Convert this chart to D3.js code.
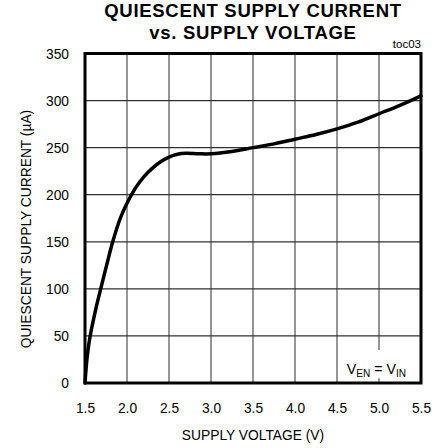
<!DOCTYPE html>
<html>
<head>
<meta charset="utf-8">
<script src="https://cdn.jsdelivr.net/npm/d3@7"></script>
<style>
  html, body { margin: 0; padding: 0; background: #fff; }
  svg { display: block; font-family: "Liberation Sans", Arial, sans-serif; }
</style>
</head>
<body>
<svg id="chart" width="443" height="448"></svg>
<script>
// ---- data ----
const voltage = [1.5, 1.51, 1.525, 1.545, 1.57, 1.6, 1.64, 1.69, 1.76, 1.83, 1.92, 2.0, 2.1, 2.2, 2.3, 2.4, 2.5, 2.6, 2.7, 2.85, 3.0, 3.25, 3.5, 3.75, 4.0, 4.25, 4.5, 4.75, 5.0, 5.25, 5.5];
const current = [0, 12, 27, 41, 54, 67, 83, 101, 126, 150, 175, 191, 207, 219, 228, 235, 240, 243, 244, 243.5, 243.5, 246, 250, 254, 259, 264, 270, 277, 286, 295, 305];
const xTicks = [1.5, 2.0, 2.5, 3.0, 3.5, 4.0, 4.5, 5.0, 5.5];
const yTicks = [0, 50, 100, 150, 200, 250, 300, 350];
const titleLines = ["QUIESCENT SUPPLY CURRENT", "vs. SUPPLY VOLTAGE"];
const xLabel = "SUPPLY VOLTAGE (V)";
const yLabel = "QUIESCENT SUPPLY CURRENT (\u00B5A)";
const tag = "toc03";

// ---- layout ----
const W = 443, H = 448;
const margin = { left: 85, right: 22, top: 53.5, bottom: 65 };
const svg = d3.select("#chart");
const pw = W - margin.left - margin.right;
const ph = H - margin.top - margin.bottom;
const g = svg.append("g").attr("transform", `translate(${margin.left},${margin.top})`);

const x = d3.scaleLinear().domain([1.5, 5.5]).range([0, pw]);
const y = d3.scaleLinear().domain([0, 350]).range([ph, 0]);
const SX = 0.92;

// grid
g.append("g").selectAll("line").data(xTicks).join("line")
  .attr("x1", d => x(d)).attr("x2", d => x(d))
  .attr("y1", 0).attr("y2", ph)
  .attr("stroke", "#505050").attr("stroke-width", 1.2);
g.append("g").selectAll("line").data(yTicks).join("line")
  .attr("x1", 0).attr("x2", pw)
  .attr("y1", d => y(d)).attr("y2", d => y(d))
  .attr("stroke", "#303030").attr("stroke-width", 1.2);

// legend box (white, covers grid)
const lx0 = x(4.55), ly0 = y(35);
const legend = g.append("g").attr("transform", `translate(${lx0},${ly0})`);
legend.append("rect").attr("x", 0).attr("y", 0)
  .attr("width", pw - lx0).attr("height", y(5) - ly0).attr("fill", "#fff");
const lt = legend.append("text")
  .attr("transform", `translate(${x(4.97) - lx0},${y(9.5) - ly0}) scale(${SX},1)`)
  .attr("text-anchor", "middle").attr("font-size", 15.5).attr("fill", "#000");
lt.append("tspan").text("V");
lt.append("tspan").attr("font-size", 11).attr("dy", 3).text("EN");
lt.append("tspan").attr("dy", -3).text(" = V");
lt.append("tspan").attr("font-size", 11).attr("dy", 3).text("IN");

// curve
const pts = voltage.map((v, i) => [v, current[i]]);
const line = d3.line().x(d => x(d[0])).y(d => y(d[1])).curve(d3.curveCatmullRom.alpha(0.5));
g.append("path").datum(pts).attr("d", line)
  .attr("fill", "none").attr("stroke", "#000").attr("stroke-width", 3.5)
  .attr("stroke-linejoin", "round").attr("stroke-linecap", "round");

// frame
g.append("rect").attr("x", 0).attr("y", 0).attr("width", pw).attr("height", ph)
  .attr("fill", "none").attr("stroke", "#000").attr("stroke-width", 3);

// axes labels via d3 axes
const xAxis = g.append("g").attr("transform", `translate(0,${ph})`)
  .call(d3.axisBottom(x).tickValues(xTicks).tickSize(0).tickFormat(d3.format(".1f")));
xAxis.select(".domain").remove();
xAxis.selectAll("text")
  .attr("y", null).attr("dy", null)
  .attr("transform", `translate(0,29.5) scale(${SX},1)`)
  .attr("font-size", 15).attr("font-family", "Liberation Sans, Arial, sans-serif").attr("fill", "#000");

const yAxis = g.append("g")
  .call(d3.axisLeft(y).tickValues(yTicks).tickSize(0).tickFormat(d3.format("d")));
yAxis.select(".domain").remove();
yAxis.selectAll("text")
  .attr("x", null).attr("dy", "0.34em")
  .attr("transform", `translate(-16,-0.5) scale(${SX},1)`)
  .attr("font-size", 15).attr("font-family", "Liberation Sans, Arial, sans-serif").attr("fill", "#000");

// axis titles
svg.append("text")
  .attr("transform", `translate(${margin.left + pw / 2},440) scale(${SX},1)`)
  .attr("text-anchor", "middle").attr("font-size", 15).text(xLabel);
svg.append("text")
  .attr("transform", `translate(31,229) rotate(-90) scale(${SX},1)`)
  .attr("text-anchor", "middle").attr("font-size", 15).text(yLabel);

// title
svg.append("g").selectAll("text").data(titleLines).join("text")
  .attr("x", margin.left + pw / 2)
  .attr("y", (d, i) => 16.7 + i * 22.3)
  .attr("text-anchor", "middle")
  .attr("font-size", 18.5).attr("font-weight", "bold")
  .attr("letter-spacing", 0.7)
  .text(d => d);

// tag
svg.append("text").attr("x", margin.left + pw).attr("y", 48.3)
  .attr("text-anchor", "end").attr("font-size", 11.5).text(tag);
</script>
</body>
</html>
